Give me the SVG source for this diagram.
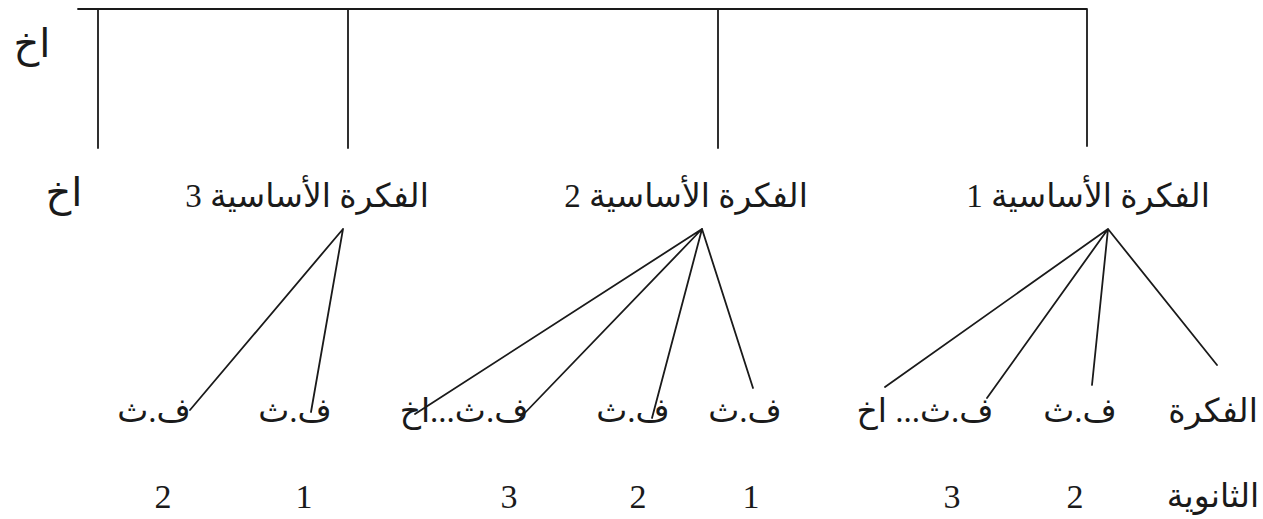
<svg xmlns="http://www.w3.org/2000/svg" width="1263" height="519" viewBox="0 0 1263 519">
<style>
.bg{fill:#ffffff}
.ln{stroke:#1a1a1a;stroke-width:1.8;fill:none;stroke-linecap:round}
.t{font-family:"Liberation Serif","DejaVu Sans",serif;font-size:33px;fill:#1a1a1a;text-anchor:middle}
.e{font-family:"Liberation Serif","DejaVu Sans",serif;font-size:40px;fill:#1a1a1a;text-anchor:middle}
.d{font-family:"Liberation Serif",serif;font-size:34px;fill:#1a1a1a;text-anchor:middle}
</style>
<rect class="bg" x="0" y="0" width="1263" height="519"/>
<g id="connectors">
<path class="ln" d="M78 9 H1087 M98 9 V148 M348 9 V148 M718 9 V148 M1087 9 V146"/>
<path class="ln" d="M343 229 L190 410 M343 229 L311 412"/>
<path class="ln" d="M702 229 L415 414 M702 229 L520 418 M702 229 L652 418 M702 229 L753 388"/>
<path class="ln" d="M1108 229 L885 387 M1108 229 L987 398 M1108 229 L1092 385 M1108 229 L1217 365"/>
</g>
<g id="etc-top"><text class="e" x="32" y="57" direction="rtl">اخ</text></g>
<g id="etc-main"><text class="e" x="64" y="206" direction="rtl">اخ</text></g>
<g id="idea3"><text class="t" x="307" y="207" direction="rtl">الفكرة الأساسية 3</text></g>
<g id="idea2"><text class="t" x="686" y="207" direction="rtl">الفكرة الأساسية 2</text></g>
<g id="idea1"><text class="t" x="1088" y="207" direction="rtl">الفكرة الأساسية 1</text></g>
<g id="i1-label">
<text class="t" x="1213" y="422" direction="rtl">الفكرة</text>
<text class="t" x="1213" y="507" direction="rtl">الثانوية</text>
</g>
<g id="i1-s2"><text class="t" x="1080" y="422" direction="rtl">ف.ث</text><text class="d" x="1075" y="508">2</text></g>
<g id="i1-s3"><text class="t" x="925" y="422" direction="rtl">ف.ث... اخ</text><text class="d" x="952" y="508">3</text></g>
<g id="i2-s1"><text class="t" x="745" y="422" direction="rtl">ف.ث</text><text class="d" x="751" y="508">1</text></g>
<g id="i2-s2"><text class="t" x="633" y="422" direction="rtl">ف.ث</text><text class="d" x="638" y="508">2</text></g>
<g id="i2-s3"><text class="t" x="464" y="422" direction="rtl">ف.ث...اخ</text><text class="d" x="509" y="508">3</text></g>
<g id="i3-s1"><text class="t" x="295" y="422" direction="rtl">ف.ث</text><text class="d" x="304" y="508">1</text></g>
<g id="i3-s2"><text class="t" x="154" y="422" direction="rtl">ف.ث</text><text class="d" x="163" y="508">2</text></g>
</svg>
